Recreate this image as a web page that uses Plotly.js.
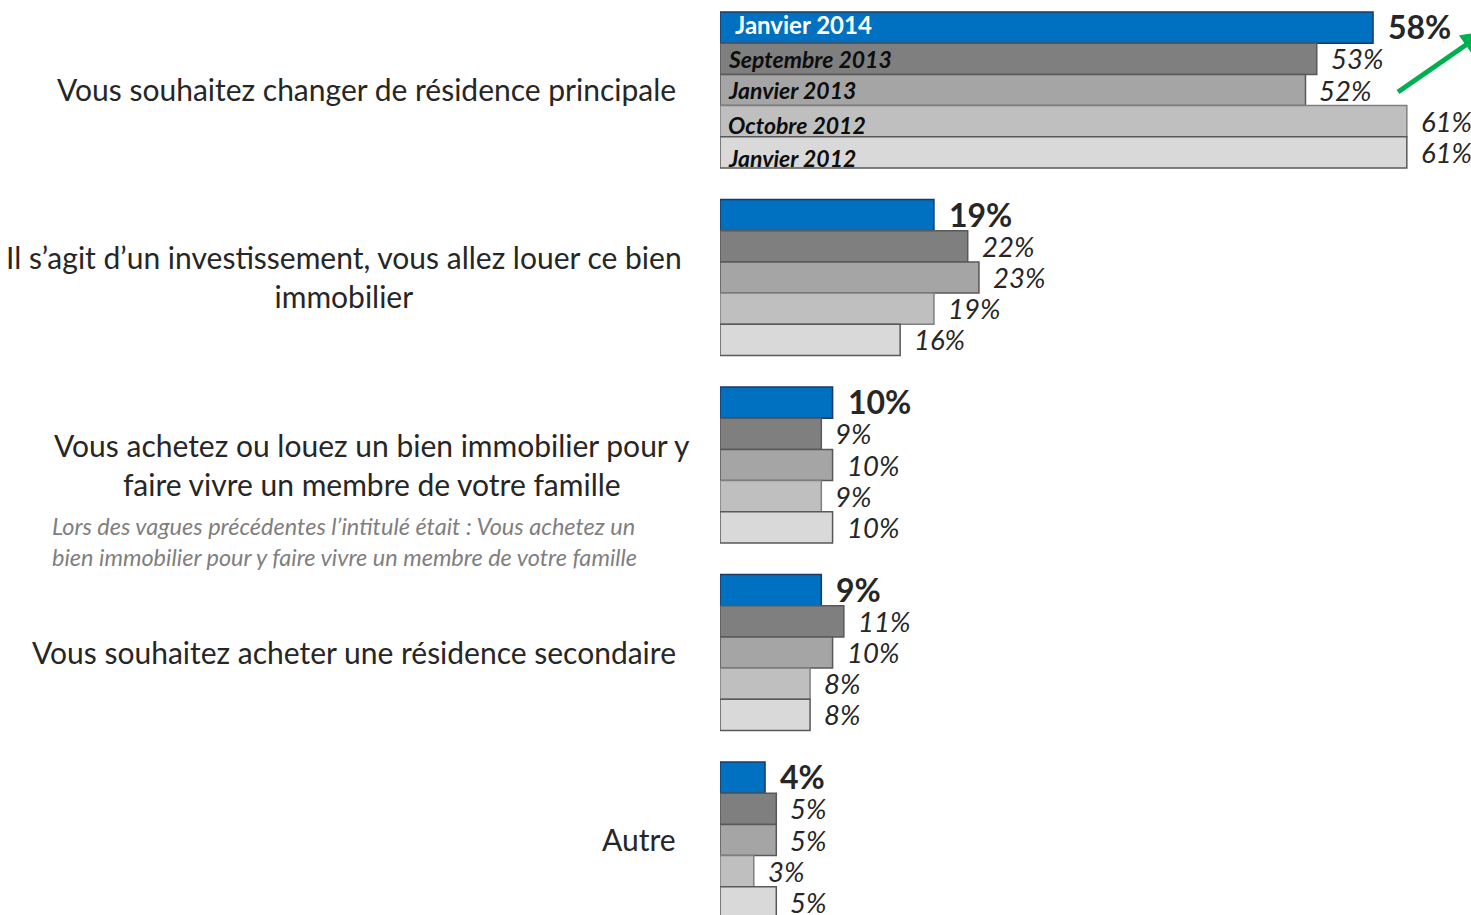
<!DOCTYPE html>
<html>
<head>
<meta charset="utf-8">
<script src="https://cdn.plot.ly/plotly-3.0.1.min.js"></script>
<style>html,body{margin:0;padding:0;background:#fff;}#chart{width:1471px;height:915px;}</style>
</head>
<body>
<div id="chart"></div>
<script>
// ---- data ----
const categories = [
  "Vous souhaitez changer de résidence principale",
  "Il s’agit d’un investissement, vous allez louer ce bien<br>immobilier",
  "Vous achetez ou louez un bien immobilier pour y<br>faire vivre un membre de votre famille",
  "Vous souhaitez acheter une résidence secondaire",
  "Autre"
];
const seriesNames = ["Janvier 2014", "Septembre 2013", "Janvier 2013", "Octobre 2012", "Janvier 2012"];
const janvier2014   = [58, 19, 10, 9, 4];
const septembre2013 = [53, 22, 9, 11, 5];
const janvier2013   = [52, 23, 10, 10, 5];
const octobre2012   = [61, 19, 9, 8, 3];
const janvier2012   = [61, 16, 10, 8, 5];
const seriesValues = [janvier2014, septembre2013, janvier2013, octobre2012, janvier2012];
const noteText = "Lors des vagues précédentes l’intitulé était : Vous achetez un<br>bien immobilier pour y faire vivre un membre de votre famille";

// ---- style ----
const fills = ["#0070C0", "#7F7F7F", "#A5A5A5", "#BFBFBF", "#D9D9D9"];
const outlines = ["#1F3864", "#595959", "#595959", "#7F7F7F", "#595959"];
const FONT = "Lato, 'Open Sans', sans-serif";
const BAR_PX = 31.2;

const traces = seriesNames.map((name, i) => ({
  type: "bar",
  orientation: "h",
  name: name,
  y: categories,
  x: seriesValues[i],
  marker: {color: fills[i], line: {color: outlines[i], width: 1.5}},
  hoverinfo: "skip"
}));

const annotations = [];
// value labels
seriesValues.forEach((vals, i) => {
  vals.forEach((v, j) => {
    const bold = i === 0;
    annotations.push({
      x: v, y: categories[j], xref: "x", yref: "y",
      text: bold ? "<b>" + v + "%</b>" : "<i>" + v + "%</i>",
      showarrow: false, xanchor: "left", yanchor: "middle",
      xshift: bold ? 13 : 12,
      yshift: -(i - 2) * BAR_PX + (bold ? 1 : 0),
      font: {family: FONT, size: bold ? 32 : 27.5, color: "#262626"}
    });
  });
});
// series names inside first group
const nameShift = [3, 0, 0, -4, -6];
seriesNames.forEach((name, i) => {
  annotations.push({
    x: 0, y: categories[0], xref: "x", yref: "y",
    text: i === 0 ? "<b>" + name + "</b>" : "<b><i>" + name + "</i></b>",
    showarrow: false, xanchor: "left", yanchor: "middle",
    xshift: i === 0 ? 13 : 6,
    yshift: -(i - 2) * BAR_PX + nameShift[i],
    font: {family: FONT, size: i === 0 ? 24 : 23, color: i === 0 ? "#FFFFFF" : "#0D0D0D"}
  });
});
// category labels
const L = 720, W = 751, H = 915;
const px = p => (p - L) / W;
const py = p => 1 - p / H;
const rightEdges = [678, 684, 692, 678, 678];
categories.forEach((c, j) => {
  annotations.push({
    x: px(rightEdges[j]), y: c, xref: "paper", yref: "y",
    text: c, showarrow: false, xanchor: "right", yanchor: "middle", align: "center",
    yshift: 1,
    font: {family: FONT, size: 30, color: "#262626"}
  });
});
// note under category 3
annotations.push({
  x: px(50), y: categories[2], xref: "paper", yref: "y",
  text: "<i>" + noteText + "</i>", showarrow: false, xanchor: "left", yanchor: "middle", align: "left",
  yshift: -76,
  font: {family: FONT, size: 23.5, color: "#7F7F7F"}
});

// green trend arrow (partly running off the right edge)
const shapes = [
  {type: "line", xref: "paper", yref: "paper", layer: "above",
   x0: px(1398), y0: py(92), x1: px(1468), y1: py(43.5),
   line: {color: "#00B050", width: 5}},
  {type: "path", xref: "paper", yref: "paper", layer: "above",
   path: "M" + px(1484) + "," + py(32) + " L" + px(1472.3) + "," + py(53.7) + " L" + px(1459.7) + "," + py(35.7) + " Z",
   fillcolor: "#00B050", line: {color: "#00B050", width: 1}}
];

const layout = {
  width: 1471, height: 915,
  margin: {l: 720, r: 0, t: 0, b: 0, pad: 0},
  paper_bgcolor: "#FFFFFF", plot_bgcolor: "#FFFFFF",
  showlegend: false,
  barmode: "group", bargap: 0.168, bargroupgap: 0,
  xaxis: {range: [0, 66.7], visible: false, fixedrange: true},
  yaxis: {type: "category", range: [4.4, -0.48], showticklabels: false, showgrid: false, zeroline: false, showline: false, ticks: ""},
  annotations: annotations,
  shapes: shapes
};

Plotly.newPlot("chart", traces, layout, {displayModeBar: false, staticPlot: true});
</script>
</body>
</html>
